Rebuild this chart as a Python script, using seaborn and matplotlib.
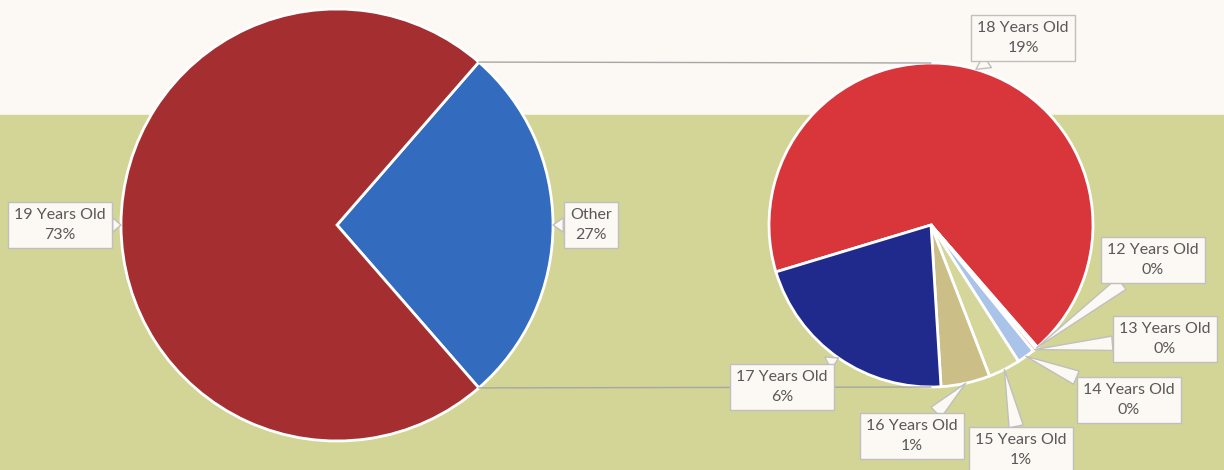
import numpy as np
import matplotlib.pyplot as plt
import seaborn as sns

# data (percent of all students)
main_labels = ["Other", "19 Years Old"]
main_values = [27.2, 72.8]

sub_labels = ["18 Years Old", "12 Years Old", "13 Years Old", "14 Years Old",
              "15 Years Old", "16 Years Old", "17 Years Old"]
sub_values = [18.55, 0.05, 0.10, 0.48, 0.87, 1.33, 5.79]

main_colors = ["#336CBF", "#A52E31"]
sub_colors = ["#D9363C", "#E98A8A", "#F2B8B6", "#A9C4E8", "#D4D69A", "#CBBF87", "#1F2A8C"]

sns.set_style("white")
plt.rcParams['font.family'] = ['Lato', 'DejaVu Sans']

W, H = 1224, 470
fig = plt.figure(figsize=(W / 100, H / 100), dpi=100)
ax = fig.add_axes([0, 0, 1, 1])

# background: cream band on top, olive below
ax.axhspan(H - 115, H, color="#FCF9F4", zorder=0)
ax.axhspan(0, H - 115, color="#D3D596", zorder=0)

c1, r1 = (337, 245), 216
c2, r2 = (931, 245), 162
wp = dict(edgecolor="white", linewidth=2)

total = sum(main_values)
other = main_values[0]

# left pie: Other centred at 0 deg
start1 = other / total * 360 / 2
w1, _ = ax.pie(main_values, colors=main_colors, startangle=start1, counterclock=False,
               center=c1, radius=r1, wedgeprops=wp, frame=True)

# right pie: breakdown of Other
sub_total = sum(sub_values)
start2 = -start1 + sub_values[0] / sub_total * 360
w2, _ = ax.pie(sub_values, colors=sub_colors, startangle=start2, counterclock=False,
               center=c2, radius=r2, wedgeprops=wp, frame=True)
ax.set_xlim(0, W)
ax.set_ylim(0, H)
ax.axis('off')

# connector lines
for sgn in (1, -1):
    a = np.deg2rad(sgn * start1)
    x0 = c1[0] + r1 * np.cos(a)
    y0 = c1[1] + r1 * np.sin(a)
    ax.plot([x0, c2[0]], [y0, c2[1] + sgn * r2], color="#A6A6A6", lw=1, zorder=1)

# label box positions (centre, in pixels from top-left)
label_pos = {
    "19 Years Old": (60, 225), "Other": (591, 225),
    "18 Years Old": (1023, 38), "12 Years Old": (1153, 260),
    "13 Years Old": (1165, 339), "14 Years Old": (1129, 400),
    "15 Years Old": (1021, 450), "16 Years Old": (912, 436),
    "17 Years Old": (782, 387),
}


def add_labels(wedges, labels, values, center, radius):
    for w, lab, v in zip(wedges, labels, values):
        mid = np.deg2rad((w.theta1 + w.theta2) / 2)
        tip = (center[0] + radius * np.cos(mid), center[1] + radius * np.sin(mid))
        px, py = label_pos[lab]
        ax.annotate(f"{lab}\n{v / total:.0%}", xy=tip, xytext=(px, H - py),
                    ha="center", va="center", fontsize=11.5, color="#595959",
                    linespacing=1.5, zorder=5,
                    bbox=dict(boxstyle="square,pad=0.4", fc="#FCF9F4", ec="#BFBFBF", lw=1),
                    arrowprops=dict(arrowstyle="wedge,tail_width=0.9,shrink_factor=0.5",
                                    fc="#FCF9F4", ec="#BFBFBF", lw=1, shrinkA=0, shrinkB=0))


add_labels(w1, main_labels, main_values, c1, r1)
add_labels(w2, sub_labels, sub_values, c2, r2)

fig.savefig("out.png", dpi=100)
